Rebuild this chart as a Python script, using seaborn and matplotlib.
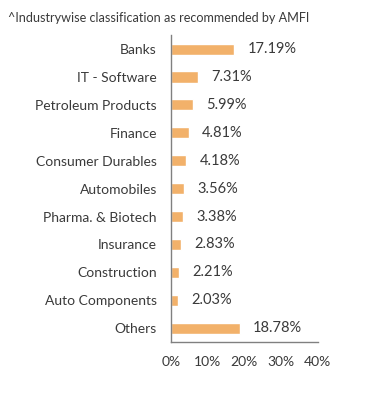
import numpy as np
import pandas as pd
import matplotlib
matplotlib.use("Agg")
import matplotlib.pyplot as plt
import seaborn as sns

industries = ["Banks", "IT - Software", "Petroleum Products", "Finance",
              "Consumer Durables", "Automobiles", "Pharma. & Biotech",
              "Insurance", "Construction", "Auto Components", "Others"]
weights = [17.19, 7.31, 5.99, 4.81, 4.18, 3.56, 3.38, 2.83, 2.21, 2.03, 18.78]
x_ticks = [0, 10, 20, 30, 40]

df = pd.DataFrame({"Industry": industries, "Weight": weights})

sns.set_style("white")
plt.rcParams["font.family"] = ["Lato", "DejaVu Sans"]
text_col = "#3a3a3a"
axis_col = "#808080"

fig = plt.figure(figsize=(3.91, 3.95), dpi=100)
ax = fig.add_axes([0.437, 0.134, 0.376, 0.777])

sns.barplot(data=df, x="Weight", y="Industry", color="#F2B16A", width=0.4,
            saturation=1, ax=ax)

for i, v in enumerate(weights):
    ax.text(v + 3.6, i, f"{v:.2f}%", va="center", ha="left",
            fontsize=10.5, color=text_col)

ax.set_xlim(0, 40)
ax.set_ylim(len(industries) - 0.5, -0.5)
ax.set_xticks(x_ticks)
ax.set_xticklabels([f"{t}%" for t in x_ticks], fontsize=10, color=text_col)
ax.tick_params(axis="y", length=0, labelsize=10, labelcolor=text_col, pad=10)
ax.set_yticks(np.arange(-0.5, len(industries)), minor=True)
ax.tick_params(axis="y", which="minor", length=4, color=axis_col, width=1)
ax.tick_params(axis="x", length=4, color=axis_col, width=1, pad=6)
ax.set_xlabel("")
ax.set_ylabel("")

for s in ["top", "right"]:
    ax.spines[s].set_visible(False)
for s in ["left", "bottom"]:
    ax.spines[s].set_color(axis_col)
    ax.spines[s].set_linewidth(1)

fig.text(0.02, 0.955, "^Industrywise classification as recommended by AMFI",
         fontsize=9.1, color=text_col, ha="left", va="center")

fig.savefig("out.png", dpi=100)
